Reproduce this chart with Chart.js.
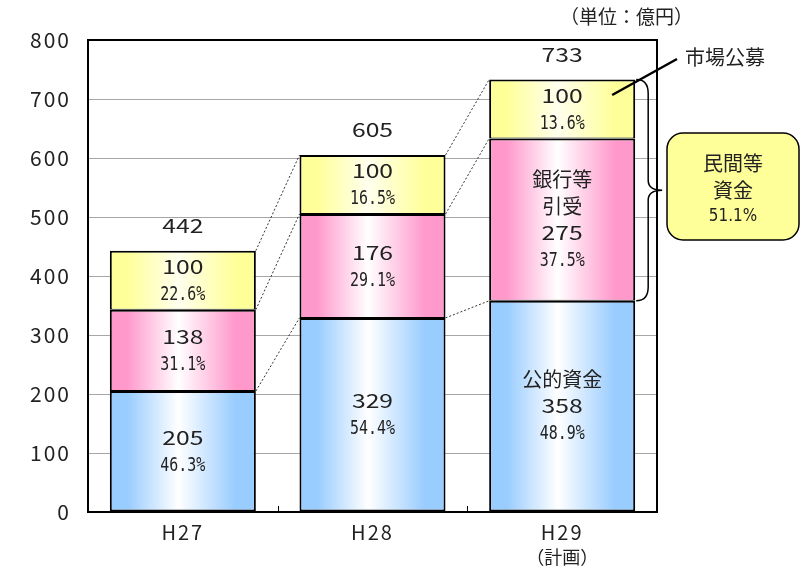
<!DOCTYPE html>
<html>
<head>
<meta charset="utf-8">
<script src="https://cdn.jsdelivr.net/npm/chart.js"></script>
<style>
  html, body { margin: 0; padding: 0; background: #fff; }
  #wrap { width: 805px; height: 569px; position: relative; }
</style>
</head>
<body>
<div id="wrap"><canvas id="fundChart"></canvas></div>
<script>
// data (億円)
const categories = ['H27', 'H28', 'H29'];
const publicFunds = [205, 329, 358];   // 公的資金
const bankFunds = [138, 176, 275];     // 銀行等引受
const marketFunds = [100, 100, 100];   // 市場公募
const totals = [442, 605, 733];        // as printed above the bars
const publicPct = [46.3, 54.4, 48.9];
const bankPct = [31.1, 29.1, 37.5];
const marketPct = [22.6, 16.5, 13.6];
const privatePct = 51.1;               // 民間等資金 (H29)
const yTicks = [0, 100, 200, 300, 400, 500, 600, 700, 800];

const JP = '"Noto Sans CJK JP", "Noto Sans", sans-serif';
const MONO = '"DejaVu Sans Mono", "Liberation Mono", monospace';

function gradientFill(edge, mid) {
  return function(c) {
    const chart = c.chart;
    if (!chart.chartArea) return edge;
    const xs = chart.scales.x;
    const cx = xs.getPixelForValue(c.dataIndex);
    const w = xs.width / categories.length * 0.77;
    const g = chart.ctx.createLinearGradient(cx - w / 2, 0, cx + w / 2, 0);
    g.addColorStop(0, edge);
    g.addColorStop(0.12, edge);
    g.addColorStop(0.47, mid);
    g.addColorStop(0.86, edge);
    g.addColorStop(1, edge);
    return g;
  };
}

function fmtPct(v) { return v.toFixed(1) + '%'; }

// wide digits like the original
function wideText(ctx, txt, x, y) {
  ctx.save();
  ctx.translate(x, y);
  ctx.scale(1.3, 1);
  ctx.font = '19px ' + JP;
  ctx.fillText(txt, 0, 0);
  ctx.restore();
}

function pctText(ctx, txt, x, y) {
  ctx.save();
  ctx.translate(x, y);
  ctx.scale(0.88, 1.18);
  ctx.font = '17px ' + MONO;
  ctx.fillText(txt, 0, 0);
  ctx.restore();
}

const overlay = {
  id: 'overlay',
  beforeDraw(chart) {
    chart.ctx.letterSpacing = '2px';
  },
  beforeDatasetsDraw(chart) {
    chart.ctx.letterSpacing = '0px';
  },
  afterDatasetsDraw(chart) {
    const ctx = chart.ctx;
    const ca = chart.chartArea;
    const xs = chart.scales.x;
    const metas = [0, 1, 2].map(i => chart.getDatasetMeta(i));

    ctx.save();
    ctx.letterSpacing = '0px';
    // frame top / right
    ctx.strokeStyle = '#000';
    ctx.lineWidth = 2;
    ctx.beginPath();
    ctx.moveTo(ca.left, ca.top);
    ctx.lineTo(ca.right, ca.top);
    ctx.lineTo(ca.right, ca.bottom);
    ctx.stroke();

    // small ticks between categories
    ctx.lineWidth = 1;
    for (let i = 1; i < categories.length; i++) {
      const x = Math.round((xs.getPixelForValue(i - 1) + xs.getPixelForValue(i)) / 2) + 0.5;
      ctx.beginPath();
      ctx.moveTo(x, ca.bottom);
      ctx.lineTo(x, ca.bottom - 6);
      ctx.stroke();
    }

    // dotted connectors between bars
    ctx.setLineDash([2, 2]);
    ctx.strokeStyle = '#333';
    ctx.lineWidth = 1;
    metas.forEach(m => {
      for (let i = 0; i < m.data.length - 1; i++) {
        const a = m.data[i], b = m.data[i + 1];
        ctx.beginPath();
        ctx.moveTo(a.x + a.width / 2, a.y);
        ctx.lineTo(b.x - b.width / 2, b.y);
        ctx.stroke();
      }
    });
    ctx.setLineDash([]);

    // segment labels
    ctx.fillStyle = '#222';
    ctx.textAlign = 'center';
    ctx.textBaseline = 'middle';
    const vals = [publicFunds, bankFunds, marketFunds];
    const pcts = [publicPct, bankPct, marketPct];
    metas.forEach((m, d) => {
      m.data.forEach((el, i) => {
        const lines = [];
        if (d === 0 && i === 2) lines.push(['公的資金', 'jp']);
        if (d === 1 && i === 2) { lines.push(['銀行等', 'jp']); lines.push(['引受', 'jp']); }
        lines.push([String(vals[d][i]), 'num']);
        lines.push([fmtPct(pcts[d][i]), 'pct']);
        const cy = (el.y + el.base) / 2;
        const step = 27;
        const y0 = cy - (lines.length - 1) * step / 2;
        lines.forEach((ln, k) => {
          const y = y0 + k * step;
          if (ln[1] === 'pct') {
            pctText(ctx, ln[0], el.x, y + 1);
          } else if (ln[1] === 'num') {
            wideText(ctx, ln[0], el.x, y);
          } else {
            ctx.font = '20px ' + JP;
            ctx.fillText(ln[0], el.x, y);
          }
        });
      });
    });

    // totals above bars
    categories.forEach((c, i) => {
      const el = metas[2].data[i];
      wideText(ctx, String(totals[i]), el.x, el.y - 25);
    });

    // 計画 note under H29
    ctx.font = '18px ' + JP;
    ctx.fillText('（計画）', xs.getPixelForValue(2), 557);

    // unit
    ctx.font = '19px ' + JP;
    ctx.textAlign = 'right';
    ctx.fillText('（単位：億円）', 693, 17);

    // 市場公募 callout
    const last = categories.length - 1;
    const mk = metas[2].data[last];
    ctx.textAlign = 'left';
    ctx.font = '20px ' + JP;
    ctx.fillText('市場公募', 685, 57);
    ctx.lineWidth = 2.5;
    ctx.strokeStyle = '#000';
    ctx.beginPath();
    ctx.moveTo(mk.x + 50, (mk.y + mk.base) / 2 - 14);
    ctx.lineTo(677, 59);
    ctx.stroke();

    // brace over 銀行等 + 市場公募
    const bk = metas[1].data[last];
    const bx = mk.x + mk.width / 2 + 1;
    const top = mk.y, bot = bk.base;
    const mid = (top + bot) / 2;
    const vx = bx + 12, px = bx + 26;
    ctx.lineWidth = 1.5;
    ctx.beginPath();
    ctx.moveTo(bx, top);
    ctx.quadraticCurveTo(vx, top, vx, top + 14);
    ctx.lineTo(vx, mid - 10);
    ctx.quadraticCurveTo(vx, mid, px, mid);
    ctx.quadraticCurveTo(vx, mid, vx, mid + 10);
    ctx.lineTo(vx, bot - 14);
    ctx.quadraticCurveTo(vx, bot, bx, bot);
    ctx.stroke();

    // rounded box 民間等資金
    const rx = 667, ry = 133, rw = 132, rh = 107, r = 16;
    ctx.beginPath();
    ctx.roundRect(rx, ry, rw, rh, r);
    ctx.fillStyle = '#ffff99';
    ctx.fill();
    ctx.lineWidth = 1.5;
    ctx.stroke();
    ctx.fillStyle = '#222';
    ctx.textAlign = 'center';
    ctx.font = '20px ' + JP;
    ctx.fillText('民間等', rx + rw / 2, 163);
    ctx.fillText('資金', rx + rw / 2, 190);
    ctx.save();
    ctx.translate(rx + rw / 2, 216);
    ctx.scale(0.95, 1.15);
    ctx.font = '16px "DejaVu Sans", sans-serif';
    ctx.fillText(fmtPct(privatePct), 0, 0);
    ctx.restore();
    ctx.restore();
  }
};

new Chart(document.getElementById('fundChart'), {
  type: 'bar',
  data: {
    labels: categories,
    datasets: [
      { label: '公的資金', data: publicFunds, backgroundColor: gradientFill('#99ccff', '#ffffff'),
        borderWidth: { top: 2, bottom: 2, left: 2, right: 2 } },
      { label: '銀行等引受', data: bankFunds, backgroundColor: gradientFill('#ff99cc', '#ffffff'),
        borderWidth: { top: 2, bottom: 1, left: 2, right: 2 } },
      { label: '市場公募', data: marketFunds, backgroundColor: gradientFill('#ffff99', '#ffffee'),
        borderWidth: { top: 2, bottom: 1, left: 2, right: 2 } }
    ]
  },
  options: {
    responsive: true,
    maintainAspectRatio: false,
    animation: false,
    layout: { padding: { top: 40, right: 148, left: 0, bottom: 0 } },
    datasets: {
      bar: {
        borderColor: '#000',
        borderSkipped: false,
        barPercentage: 0.77,
        categoryPercentage: 1
      }
    },
    plugins: { legend: { display: false }, tooltip: { enabled: false } },
    scales: {
      x: {
        stacked: true,
        grid: { display: false },
        border: { color: '#000', width: 2 },
        ticks: { color: '#222', font: { family: JP, size: 20 }, padding: 0 },
        afterFit(s) { s.height = 57; }
      },
      y: {
        stacked: true,
        min: 0,
        max: 800,
        afterBuildTicks(s) { s.ticks = yTicks.map(v => ({ value: v })); },
        grid: { color: '#a6a6a6', lineWidth: 1, drawTicks: false },
        border: { color: '#000', width: 2 },
        ticks: { color: '#222', font: { family: JP, size: 21 }, padding: 17 },
        afterFit(s) { s.width = 88; }
      }
    }
  },
  plugins: [overlay]
});
</script>
</body>
</html>
